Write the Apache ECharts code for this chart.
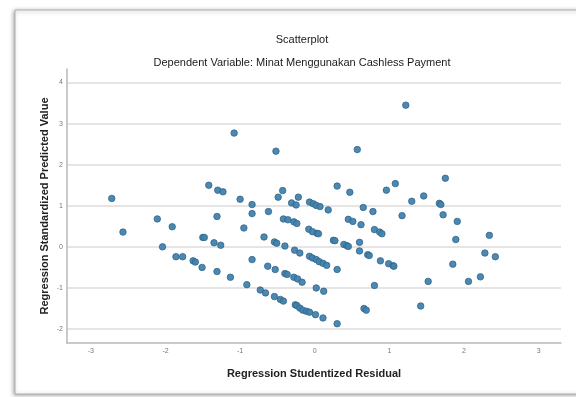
<!DOCTYPE html>
<html>
<head>
<meta charset="utf-8">
<script src="https://cdn.jsdelivr.net/npm/echarts@6/dist/echarts.min.js"></script>
<style>
html,body{margin:0;padding:0;background:#fff;}
#chart{width:576px;height:397px;}
</style>
</head>
<body>
<div id="chart"></div>
<script>
// Regression Studentized Residual (x) and Regression Standardized Predicted Value (y)
var residuals = [
 -2.72,-2.57,-2.11,-2.04,-1.91,-1.86,-1.77,-1.63,-1.60,-1.51,-1.50,-1.48,-1.42,-1.35,-1.31,-1.30,-1.26,-1.23,-1.31,-1.13,
 -1.00,-0.95,-0.91,-0.84,-0.84,-0.84,-0.73,-0.66,-0.68,-0.63,-0.62,-0.53,-0.54,-0.51,-0.54,-0.49,-0.43,-0.46,-0.42,-0.42,
 -0.40,-0.40,-0.37,-0.36,-0.31,-0.28,-0.27,-0.28,-0.26,-0.25,-0.24,-0.22,-0.24,-0.23,-0.52,-1.08,
 -0.20,-0.20,-0.17,-0.16,-0.11,-0.07,0.01,0.11,0.30,0.02,0.12,-0.07,-0.03,0.02,0.06,0.11,0.16,0.30,-0.08,-0.03,
 0.03,0.05,-0.07,-0.02,0.02,0.07,0.18,0.30,0.47,0.57,0.65,0.78,0.45,0.51,0.62,0.80,0.87,0.90,0.25,0.27,
 0.39,0.43,0.45,0.60,0.60,0.71,0.73,0.88,0.99,1.05,1.06,0.80,0.66,0.69,0.96,1.08,1.75,1.30,1.46,1.17,
 1.67,1.69,1.72,1.91,1.89,2.34,2.28,2.42,1.85,1.52,2.06,2.22,1.42,1.22
];
var predicted = [
 1.18,0.36,0.68,0.00,0.49,-0.24,-0.24,-0.34,-0.37,-0.50,0.23,0.23,1.50,0.10,0.74,1.38,0.04,1.34,-0.60,-0.74,
 1.16,0.46,-0.92,1.03,0.81,-0.31,-1.05,-1.12,0.24,-0.47,0.86,-0.55,0.12,0.09,-1.21,1.21,1.37,-1.28,-1.32,0.68,
 0.02,-0.65,-0.67,0.66,1.07,0.61,-0.08,-0.74,-1.41,1.02,-1.43,1.21,0.57,-0.78,2.33,2.77,
 -0.15,-1.49,-0.86,-1.54,-1.57,-1.59,-1.65,-1.73,-1.87,-1.00,-1.08,-0.23,-0.27,-0.31,-0.36,-0.40,-0.45,-0.55,0.43,0.37,
 0.33,0.32,1.09,1.05,1.01,0.98,0.90,1.48,1.33,2.37,0.96,0.86,0.67,0.62,0.54,0.42,0.36,0.32,0.16,0.15,
 0.06,0.03,0.01,0.11,-0.10,-0.19,-0.21,-0.34,-0.41,-0.46,-0.47,-0.94,-1.50,-1.54,1.38,1.54,1.67,1.11,1.24,0.76,
 1.06,1.03,0.78,0.62,0.18,0.28,-0.15,-0.24,-0.42,-0.84,-0.84,-0.73,-1.44,3.45
];
var titleText = 'Scatterplot';
var subtitleText = 'Dependent Variable: Minat Menggunakan Cashless Payment';
var xAxisName = 'Regression Studentized Residual';
var yAxisName = 'Regression Standardized Predicted Value';
var xRange = [-3.32, 3.30];
var yRange = [-2.34, 4.33];

var points = residuals.map(function (x, i) { return [x, predicted[i]]; });

var chart = echarts.init(document.getElementById('chart'));
var intLabel = function (v) { return Math.abs(v - Math.round(v)) < 1e-6 ? String(Math.round(v)) : ''; };
chart.setOption({
  animation: false,
  backgroundColor: '#fff',
  graphic: [{
    type: 'rect', z: -10, silent: true,
    shape: { x: 15, y: 10, width: 600, height: 384 },
    style: { fill: '#fff', stroke: '#b0b0b0', lineWidth: 1, shadowBlur: 4, shadowColor: 'rgba(0,0,0,0.35)', shadowOffsetX: -1, shadowOffsetY: 1 }
  }],
  title: [
    { text: titleText, left: 297, top: 29, textAlign: 'center',
      textStyle: { fontFamily: 'Liberation Sans', fontSize: 11, fontWeight: 'normal', color: '#1a1a1a' } },
    { text: subtitleText, left: 297, top: 52, textAlign: 'center',
      textStyle: { fontFamily: 'Liberation Sans', fontSize: 11, fontWeight: 'normal', color: '#1a1a1a' } }
  ],
  grid: { left: 67, right: 15, top: 69, bottom: 54, containLabel: false },
  xAxis: {
    type: 'value', min: xRange[0], max: xRange[1], minInterval: 1, maxInterval: 1,
    name: xAxisName, nameLocation: 'middle', nameGap: 25,
    nameTextStyle: { fontFamily: 'Liberation Sans', fontSize: 11, fontWeight: 'bold', color: '#222' },
    axisLine: { show: true, onZero: false, lineStyle: { color: '#b8b8b8', width: 1.5 } },
    axisTick: { show: false },
    axisLabel: { fontFamily: 'Liberation Sans', fontSize: 7, color: '#777', margin: 5, formatter: intLabel, showMinLabel: false, showMaxLabel: false },
    splitLine: { show: false }
  },
  yAxis: {
    type: 'value', min: yRange[0], max: yRange[1], minInterval: 1, maxInterval: 1,
    name: yAxisName, nameLocation: 'middle', nameGap: 17, nameMoveOverlap: false,
    nameTextStyle: { fontFamily: 'Liberation Sans', fontSize: 11, fontWeight: 'bold', color: '#222' },
    axisLine: { show: true, onZero: false, lineStyle: { color: '#b8b8b8', width: 1.5 } },
    axisTick: { show: false },
    axisLabel: { fontFamily: 'Liberation Sans', fontSize: 7, color: '#777', margin: 4, formatter: intLabel, showMinLabel: false, showMaxLabel: false },
    splitLine: { show: true, showMinLine: false, showMaxLine: false, lineStyle: { color: '#dcdcdc', width: 1.5 } }
  },
  series: [{
    type: 'scatter',
    data: points,
    symbol: 'circle',
    symbolSize: 6.5,
    itemStyle: { color: '#4282ad', borderColor: '#2d6389', borderWidth: 0.8, opacity: 0.95 }
  }]
});
</script>
</body>
</html>
